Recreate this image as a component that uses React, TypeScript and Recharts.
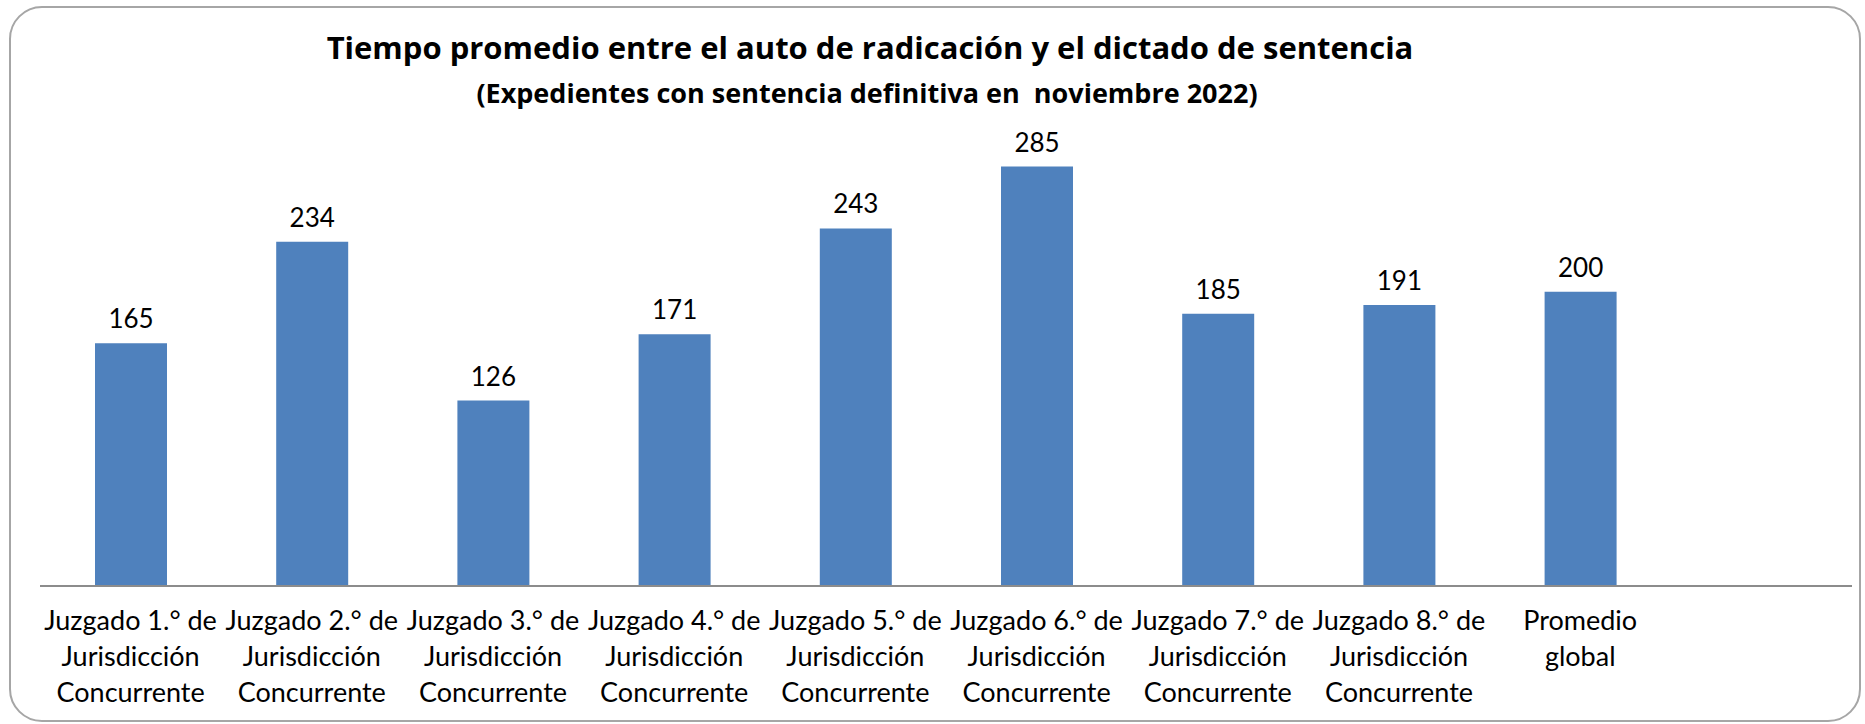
import React from 'react';
import { BarChart, Bar, XAxis, YAxis, LabelList } from 'recharts';

const categories: string[] = [
  'Juzgado 1.° de|Jurisdicción|Concurrente',
  'Juzgado 2.° de|Jurisdicción|Concurrente',
  'Juzgado 3.° de|Jurisdicción|Concurrente',
  'Juzgado 4.° de|Jurisdicción|Concurrente',
  'Juzgado 5.° de|Jurisdicción|Concurrente',
  'Juzgado 6.° de|Jurisdicción|Concurrente',
  'Juzgado 7.° de|Jurisdicción|Concurrente',
  'Juzgado 8.° de|Jurisdicción|Concurrente',
  'Promedio|global',
  '',
];
const values: (number | null)[] = [165, 234, 126, 171, 243, 285, 185, 191, 200, null];

const title = 'Tiempo promedio entre el auto de radicación y el dictado de sentencia';
const subtitle = '(Expedientes con sentencia definitiva en  noviembre 2022)';

const data = categories.map((c, i) => ({ name: c, value: values[i] }));

const FONT = 'Lato, "Open Sans", sans-serif';
const TITLE_FONT = '"Open Sans", Lato, sans-serif';

const Tick = (props: any) => {
  const { x, y, payload } = props;
  const lines = String(payload.value).split('|').filter((s: string) => s.length > 0);
  return (
    <g>
      {lines.map((ln: string, i: number) => (
        <text key={i} x={x} y={y + 36 + i * 36} textAnchor="middle" fontFamily={FONT} fontSize={27} fill="#000">
          {ln}
        </text>
      ))}
    </g>
  );
};

const ValueLabel = (props: any) => {
  const { x, y, width, value } = props;
  if (value == null) return null;
  return (
    <text x={x + width / 2} y={y - 15} textAnchor="middle" fontFamily={FONT} fontSize={26} fill="#000">
      {value}
    </text>
  );
};

export default function App() {
  return (
    <div style={{ position: 'absolute', left: 0, top: 0, width: 1865, height: 724, background: '#fff' }}>
      <svg width={1865} height={724} style={{ position: 'absolute', left: 0, top: 0 }}>
        <rect x={10} y={7} width={1850} height={714} rx={32} ry={32} fill="#fff" stroke="#a6a6a6" strokeWidth={2} />
        <text x={870} y={59} textAnchor="middle" fontFamily={TITLE_FONT} fontWeight={700} fontSize={31} fill="#000">
          {title}
        </text>
        <text x={867} y={103} textAnchor="middle" fontFamily={TITLE_FONT} fontWeight={700} fontSize={27} fill="#000" style={{ whiteSpace: 'pre' }}>
          {subtitle}
        </text>
      </svg>
      <div style={{ position: 'absolute', left: 0, top: 0 }}>
        <BarChart
          width={1865}
          height={724}
          data={data}
          margin={{ top: 144.5, right: 13, left: 40, bottom: 10 }}
          barSize={72}
        >
          <YAxis hide domain={[0, 300]} width={0} />
          <XAxis
            dataKey="name"
            interval={0}
            height={128}
            tickLine={false}
            axisLine={{ stroke: '#8c8c8c', strokeWidth: 2 }}
            tick={<Tick />}
          />
          <Bar dataKey="value" fill="#4F81BD" isAnimationActive={false}>
            <LabelList dataKey="value" content={<ValueLabel />} />
          </Bar>
        </BarChart>
      </div>
    </div>
  );
}
